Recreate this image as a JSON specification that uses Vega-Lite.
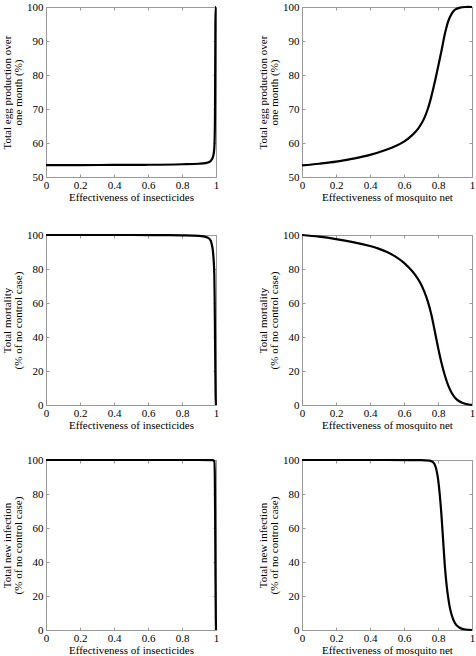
{
  "$schema": "https://vega.github.io/schema/vega-lite/v6.json",
  "padding": {"left": 1, "top": 0, "right": 0, "bottom": 0},
  "background": "white",
  "datasets": {
    "egg_ins": [
      {"x": 0, "y": 53.5}, {"x": 0.2, "y": 53.5}, {"x": 0.4, "y": 53.55}, {"x": 0.6, "y": 53.6},
      {"x": 0.8, "y": 53.75}, {"x": 0.9, "y": 53.9}, {"x": 0.94, "y": 54.1}, {"x": 0.96, "y": 54.4},
      {"x": 0.97, "y": 54.8}, {"x": 0.98, "y": 55.6}, {"x": 0.985, "y": 56.5}, {"x": 0.99, "y": 58.5},
      {"x": 0.992, "y": 61}, {"x": 0.994, "y": 68}, {"x": 0.995, "y": 78}, {"x": 0.996, "y": 90},
      {"x": 0.997, "y": 100}, {"x": 1, "y": 100}
    ],
    "egg_net": [
      {"x": 0, "y": 53.4}, {"x": 0.1, "y": 53.9}, {"x": 0.2, "y": 54.5}, {"x": 0.3, "y": 55.4},
      {"x": 0.4, "y": 56.5}, {"x": 0.5, "y": 58.1}, {"x": 0.55, "y": 59.1}, {"x": 0.6, "y": 60.4},
      {"x": 0.65, "y": 62.4}, {"x": 0.68, "y": 64}, {"x": 0.7, "y": 65.5}, {"x": 0.72, "y": 67.4},
      {"x": 0.74, "y": 70}, {"x": 0.76, "y": 73.5}, {"x": 0.78, "y": 77.7}, {"x": 0.8, "y": 82.3},
      {"x": 0.82, "y": 87}, {"x": 0.84, "y": 92}, {"x": 0.86, "y": 95.8}, {"x": 0.88, "y": 98},
      {"x": 0.9, "y": 99.2}, {"x": 0.93, "y": 99.8}, {"x": 0.96, "y": 100}, {"x": 1, "y": 100}
    ],
    "mort_ins": [
      {"x": 0, "y": 100}, {"x": 0.5, "y": 100}, {"x": 0.7, "y": 99.9}, {"x": 0.8, "y": 99.8},
      {"x": 0.9, "y": 99.5}, {"x": 0.95, "y": 98.5}, {"x": 0.97, "y": 96.5}, {"x": 0.975, "y": 94.5},
      {"x": 0.98, "y": 92}, {"x": 0.985, "y": 87}, {"x": 0.99, "y": 77}, {"x": 0.992, "y": 64},
      {"x": 0.994, "y": 44}, {"x": 0.996, "y": 20}, {"x": 0.998, "y": 4}, {"x": 1, "y": 0}
    ],
    "mort_net": [
      {"x": 0, "y": 100}, {"x": 0.1, "y": 99}, {"x": 0.2, "y": 97.6}, {"x": 0.3, "y": 95.8},
      {"x": 0.4, "y": 93.5}, {"x": 0.45, "y": 92}, {"x": 0.5, "y": 90}, {"x": 0.55, "y": 87.3},
      {"x": 0.6, "y": 83.6}, {"x": 0.65, "y": 78.5}, {"x": 0.68, "y": 74.5}, {"x": 0.7, "y": 71},
      {"x": 0.72, "y": 66.5}, {"x": 0.74, "y": 61}, {"x": 0.76, "y": 53.5}, {"x": 0.78, "y": 44},
      {"x": 0.8, "y": 34}, {"x": 0.82, "y": 25}, {"x": 0.84, "y": 17.5}, {"x": 0.86, "y": 11.5},
      {"x": 0.88, "y": 7.2}, {"x": 0.9, "y": 4.3}, {"x": 0.92, "y": 2.5}, {"x": 0.95, "y": 1},
      {"x": 0.98, "y": 0.3}, {"x": 1, "y": 0.1}
    ],
    "inf_ins": [
      {"x": 0, "y": 100}, {"x": 0.9, "y": 100}, {"x": 0.98, "y": 99.9}, {"x": 0.99, "y": 99.3},
      {"x": 0.993, "y": 92}, {"x": 0.995, "y": 65}, {"x": 0.997, "y": 30}, {"x": 0.999, "y": 6},
      {"x": 1, "y": 0}
    ],
    "inf_net": [
      {"x": 0, "y": 100}, {"x": 0.5, "y": 100}, {"x": 0.7, "y": 99.9}, {"x": 0.75, "y": 99.6},
      {"x": 0.77, "y": 98.8}, {"x": 0.78, "y": 97.5}, {"x": 0.79, "y": 94.5}, {"x": 0.8, "y": 89},
      {"x": 0.81, "y": 80}, {"x": 0.82, "y": 68}, {"x": 0.83, "y": 53}, {"x": 0.84, "y": 38},
      {"x": 0.85, "y": 27}, {"x": 0.86, "y": 19}, {"x": 0.87, "y": 13}, {"x": 0.88, "y": 9},
      {"x": 0.9, "y": 4}, {"x": 0.93, "y": 1.2}, {"x": 0.96, "y": 0.3}, {"x": 1, "y": 0}
    ]
  },
  "config": {
    "font": "Liberation Serif",
    "view": {"stroke": "#9a9a9a", "strokeWidth": 1},
    "line": {"color": "black", "strokeWidth": 2.2, "interpolate": "monotone"},
    "axis": {
      "grid": false, "domain": false, "tickColor": "#9a9a9a", "tickSize": -3, "labelPadding": 4,
      "labelFont": "Liberation Serif", "labelFontSize": 11, "labelColor": "black",
      "labelFlush": false, "labelOverlap": false,
      "titleFont": "Liberation Serif", "titleFontSize": 11, "titleFontWeight": "normal",
      "titleColor": "black", "titleLineHeight": 11
    },
    "axisX": {"labelPadding": 5, "titleY": 23, "titleBaseline": "alphabetic"},
    "axisY": {"titlePadding": 3, "labelPadding": 6}
  },
  "spacing": 22,
  "vconcat": [
    {
      "spacing": 25,
      "vconcat": [
        {
          "spacing": 36,
          "hconcat": [
            {
              "width": 170, "height": 170, "data": {"name": "egg_ins"},
              "layer": [
                {"mark": "line", "encoding": {
                  "x": {"field": "x", "type": "quantitative", "scale": {"domain": [0, 1], "nice": false}, "axis": {"title": "Effectiveness of insecticides", "values": [0, 0.2, 0.4, 0.6, 0.8, 1], "format": "~g"}},
                  "y": {"field": "y", "type": "quantitative", "scale": {"domain": [50, 100], "nice": false, "zero": false}, "axis": {"title": ["Total egg production over", "one month (%)"], "values": [50, 60, 70, 80, 90, 100]}}
                }},
                {"mark": {"type": "line", "opacity": 0}, "encoding": {
                  "x": {"field": "x", "type": "quantitative", "axis": {"orient": "top", "labels": false, "title": null, "values": [0, 0.2, 0.4, 0.6, 0.8, 1]}},
                  "y": {"field": "y", "type": "quantitative", "axis": {"orient": "right", "labels": false, "title": null, "values": [50, 60, 70, 80, 90, 100]}}
                }}
              ],
              "resolve": {"axis": {"x": "independent", "y": "independent"}}
            },
            {
              "width": 170, "height": 170, "data": {"name": "egg_net"},
              "layer": [
                {"mark": {"type": "line", "interpolate": "catmull-rom"}, "encoding": {
                  "x": {"field": "x", "type": "quantitative", "scale": {"domain": [0, 1], "nice": false}, "axis": {"title": "Effectiveness of mosquito  net", "values": [0, 0.2, 0.4, 0.6, 0.8, 1], "format": "~g"}},
                  "y": {"field": "y", "type": "quantitative", "scale": {"domain": [50, 100], "nice": false, "zero": false}, "axis": {"title": ["Total egg production over", "one month (%)"], "values": [50, 60, 70, 80, 90, 100]}}
                }},
                {"mark": {"type": "line", "opacity": 0}, "encoding": {
                  "x": {"field": "x", "type": "quantitative", "axis": {"orient": "top", "labels": false, "title": null, "values": [0, 0.2, 0.4, 0.6, 0.8, 1]}},
                  "y": {"field": "y", "type": "quantitative", "axis": {"orient": "right", "labels": false, "title": null, "values": [50, 60, 70, 80, 90, 100]}}
                }}
              ],
              "resolve": {"axis": {"x": "independent", "y": "independent"}}
            }
          ]
        },
        {
          "spacing": 36,
          "hconcat": [
            {
              "width": 170, "height": 170, "data": {"name": "mort_ins"},
              "layer": [
                {"mark": "line", "encoding": {
                  "x": {"field": "x", "type": "quantitative", "scale": {"domain": [0, 1], "nice": false}, "axis": {"title": "Effectiveness of insecticides", "values": [0, 0.2, 0.4, 0.6, 0.8, 1], "format": "~g"}},
                  "y": {"field": "y", "type": "quantitative", "scale": {"domain": [0, 100], "nice": false}, "axis": {"title": ["Total mortality", "(% of no control case)"], "values": [0, 20, 40, 60, 80, 100]}}
                }},
                {"mark": {"type": "line", "opacity": 0}, "encoding": {
                  "x": {"field": "x", "type": "quantitative", "axis": {"orient": "top", "labels": false, "title": null, "values": [0, 0.2, 0.4, 0.6, 0.8, 1]}},
                  "y": {"field": "y", "type": "quantitative", "axis": {"orient": "right", "labels": false, "title": null, "values": [0, 20, 40, 60, 80, 100]}}
                }}
              ],
              "resolve": {"axis": {"x": "independent", "y": "independent"}}
            },
            {
              "width": 170, "height": 170, "data": {"name": "mort_net"},
              "layer": [
                {"mark": {"type": "line", "interpolate": "catmull-rom"}, "encoding": {
                  "x": {"field": "x", "type": "quantitative", "scale": {"domain": [0, 1], "nice": false}, "axis": {"title": "Effectiveness of mosquito  net", "values": [0, 0.2, 0.4, 0.6, 0.8, 1], "format": "~g"}},
                  "y": {"field": "y", "type": "quantitative", "scale": {"domain": [0, 100], "nice": false}, "axis": {"title": ["Total mortality", "(% of no control case)"], "values": [0, 20, 40, 60, 80, 100]}}
                }},
                {"mark": {"type": "line", "opacity": 0}, "encoding": {
                  "x": {"field": "x", "type": "quantitative", "axis": {"orient": "top", "labels": false, "title": null, "values": [0, 0.2, 0.4, 0.6, 0.8, 1]}},
                  "y": {"field": "y", "type": "quantitative", "axis": {"orient": "right", "labels": false, "title": null, "values": [0, 20, 40, 60, 80, 100]}}
                }}
              ],
              "resolve": {"axis": {"x": "independent", "y": "independent"}}
            }
          ]
        }
      ]
    },
    {
      "spacing": 36,
      "hconcat": [
        {
          "width": 170, "height": 170, "data": {"name": "inf_ins"},
          "layer": [
            {"mark": "line", "encoding": {
              "x": {"field": "x", "type": "quantitative", "scale": {"domain": [0, 1], "nice": false}, "axis": {"title": "Effectiveness of insecticides", "values": [0, 0.2, 0.4, 0.6, 0.8, 1], "format": "~g"}},
              "y": {"field": "y", "type": "quantitative", "scale": {"domain": [0, 100], "nice": false}, "axis": {"title": ["Total new infection", "(% of no control case)"], "values": [0, 20, 40, 60, 80, 100]}}
            }},
            {"mark": {"type": "line", "opacity": 0}, "encoding": {
              "x": {"field": "x", "type": "quantitative", "axis": {"orient": "top", "labels": false, "title": null, "values": [0, 0.2, 0.4, 0.6, 0.8, 1]}},
              "y": {"field": "y", "type": "quantitative", "axis": {"orient": "right", "labels": false, "title": null, "values": [0, 20, 40, 60, 80, 100]}}
            }}
          ],
          "resolve": {"axis": {"x": "independent", "y": "independent"}}
        },
        {
          "width": 170, "height": 170, "data": {"name": "inf_net"},
          "layer": [
            {"mark": "line", "encoding": {
              "x": {"field": "x", "type": "quantitative", "scale": {"domain": [0, 1], "nice": false}, "axis": {"title": "Effectiveness of mosquito  net", "values": [0, 0.2, 0.4, 0.6, 0.8, 1], "format": "~g"}},
              "y": {"field": "y", "type": "quantitative", "scale": {"domain": [0, 100], "nice": false}, "axis": {"title": ["Total new infection", "(% of no control case)"], "values": [0, 20, 40, 60, 80, 100]}}
            }},
            {"mark": {"type": "line", "opacity": 0}, "encoding": {
              "x": {"field": "x", "type": "quantitative", "axis": {"orient": "top", "labels": false, "title": null, "values": [0, 0.2, 0.4, 0.6, 0.8, 1]}},
              "y": {"field": "y", "type": "quantitative", "axis": {"orient": "right", "labels": false, "title": null, "values": [0, 20, 40, 60, 80, 100]}}
            }}
          ],
          "resolve": {"axis": {"x": "independent", "y": "independent"}}
        }
      ]
    }
  ]
}
